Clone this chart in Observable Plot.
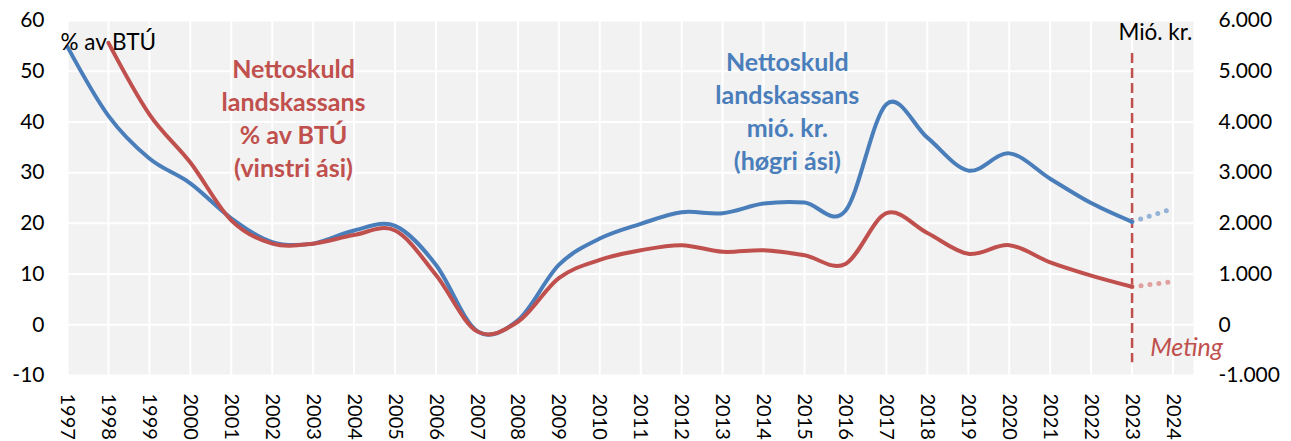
<!DOCTYPE html>
<html><head><meta charset="utf-8">
<script src="https://cdn.jsdelivr.net/npm/d3@7"></script>
<script src="https://cdn.jsdelivr.net/npm/@observablehq/plot@0.6"></script>
<style>
body{margin:0;background:#fff;}
#chart svg{font-family:Lato, "Open Sans", sans-serif;}
</style>
</head><body><div id="chart"></div>
<script>
// Nettoskuld landskassans, mió. kr. (høgri ási)
const mioYears = [1997,1998,1999,2000,2001,2002,2003,2004,2005,2006,2007,2008,2009,2010,2011,2012,2013,2014,2015,2016,2017,2018,2019,2020,2021,2022,2023];
const mioKr    = [5480,4120,3280,2790,2100,1630,1600,1860,1950,1180,-120,90,1180,1700,1990,2220,2200,2390,2410,2250,4350,3690,3040,3380,2880,2400,2030];
// Nettoskuld landskassans, % av BTÚ (vinstri ási)
const pctYears = [1998,1999,2000,2001,2002,2003,2004,2005,2006,2007,2008,2009,2010,2011,2012,2013,2014,2015,2016,2017,2018,2019,2020,2021,2022,2023];
const pctBTU   = [55.6,41.5,32.0,20.6,16.0,16.0,17.7,18.6,9.8,-1.3,0.6,9.2,12.8,14.7,15.7,14.4,14.7,13.7,12.0,22.0,18.1,14.0,15.7,12.3,9.7,7.5];
// Meting (estimate)
const forecastYears = [2023, 2024];
const mioKrForecast = [2030, 2290];
const pctForecast   = [7.5, 8.5];
const estimateYear  = [2023];
// Axes
const tickYears  = [1997,1998,1999,2000,2001,2002,2003,2004,2005,2006,2007,2008,2009,2010,2011,2012,2013,2014,2015,2016,2017,2018,2019,2020,2021,2022,2023,2024];
const leftTicks  = [-10,0,10,20,30,40,50,60];
const rightTicks = [-1000,0,1000,2000,3000,4000,5000,6000];
const ratio = 100; // mió. kr per % unit on shared vertical scale

const blue = "#4a7ebb", red = "#c0504d";
const blueLight = "#95b3d7", redLight = "#e0a09e";

const fmtKr = v => {
  const s = Math.abs(v).toString().replace(/\B(?=(\d{3})+(?!\d))/g, ".");
  return (v < 0 ? "-" : "") + s;
};

const mioData = mioYears.map((y,i) => ({year:y, v: mioKr[i] / ratio}));
const pctData = pctYears.map((y,i) => ({year:y, v: pctBTU[i]}));
const mioF = forecastYears.map((y,i) => ({year:y, v: mioKrForecast[i] / ratio}));
const pctF = forecastYears.map((y,i) => ({year:y, v: pctForecast[i]}));

const chart = Plot.plot({
  width: 1291, height: 441,
  marginLeft: 67, marginRight: 98, marginTop: 20, marginBottom: 66,
  style: {fontFamily: "Lato, 'Open Sans', sans-serif", fontSize: "20px", color: "#000", background: "#fff", overflow: "visible"},
  x: {domain: [1997, 2024.5], axis: null},
  y: {domain: [-10, 60], axis: null},
  marks: [
    Plot.frame({fill: "#f2f2f2", stroke: null}),
    Plot.gridX(tickYears, {stroke: "#fff", strokeOpacity: 1, strokeWidth: 2}),
    Plot.gridY(leftTicks, {stroke: "#fff", strokeOpacity: 1, strokeWidth: 2}),
    Plot.axisY(leftTicks, {anchor: "left", tickSize: 0, tickPadding: 23, tickFormat: d => String(d), fontSize: 21, label: null}),
    Plot.axisY(rightTicks.map(v => v / ratio), {anchor: "right", tickSize: 0, tickPadding: 25, textAnchor: "start", tickFormat: d => fmtKr(Math.round(d * ratio)), fontSize: 21, label: null}),
    Plot.axisX(tickYears, {anchor: "bottom", tickSize: 0, tickPadding: 18, tickRotate: 90, tickFormat: d => String(d), fontSize: 20, label: null}),
    Plot.ruleX(estimateYear, {y1: 53.5, y2: -7.5, stroke: red, strokeWidth: 2.5, strokeDasharray: "10,5"}),
    Plot.line(mioF, {x: "year", y: "v", stroke: blueLight, strokeWidth: 5, strokeDasharray: "0,9", strokeLinecap: "round"}),
    Plot.line(pctF, {x: "year", y: "v", stroke: redLight, strokeWidth: 5, strokeDasharray: "0,9", strokeLinecap: "round"}),
    Plot.line(mioData, {x: "year", y: "v", stroke: blue, strokeWidth: 4, curve: "cardinal", tension: 0}),
    Plot.line(pctData, {x: "year", y: "v", stroke: red, strokeWidth: 4, curve: "cardinal", tension: 0}),
    Plot.text(["Nettoskuld\nlandskassans\n% av BTÚ\n(vinstri ási)"], {x: 2002.52, y: 41.0, fill: red, fontSize: 25, fontWeight: "bold", lineHeight: 1.33, lineAnchor: "middle", textAnchor: "middle"}),
    Plot.text(["Nettoskuld\nlandskassans\nmió. kr.\n(høgri ási)"], {x: 2014.58, y: 42.4, fill: blue, fontSize: 25, fontWeight: "bold", lineHeight: 1.33, lineAnchor: "middle", textAnchor: "middle"}),
    Plot.text(["% av BTÚ"], {x: 1997, y: 55.6, dx: -7, fill: "#000", fontSize: 22.5, textAnchor: "start"}),
    Plot.text(["Mió. kr."], {x: 2023.57, y: 57.5, fill: "#000", fontSize: 22.5, textAnchor: "middle"}),
    Plot.text(["Meting"], {x: 2024.33, y: -4.6, fill: red, fontSize: 25, fontStyle: "italic", textAnchor: "middle"})
  ]
});
document.getElementById("chart").appendChild(chart);
</script>
</body></html>
